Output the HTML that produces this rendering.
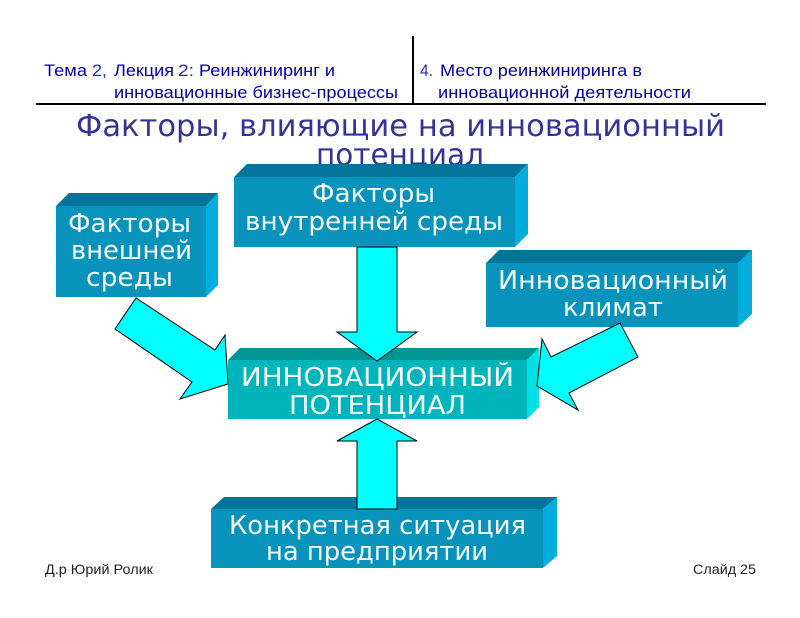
<!DOCTYPE html>
<html lang="ru">
<head>
<meta charset="utf-8">
<title>Факторы</title>
<style>
html,body{margin:0;padding:0;background:#fff;width:800px;height:618px;overflow:hidden}
svg{display:block}
.h{font-family:"Liberation Sans",Arial,sans-serif;font-size:17px;fill:#0000a8}
.d{font-family:"Liberation Sans",Arial,sans-serif;font-size:17px;fill:#2a2ab0}
.t{font-family:"DejaVu Sans",Verdana,sans-serif;font-size:30px;fill:#333399}
.b{font-family:"DejaVu Sans",Verdana,sans-serif;font-size:26px;fill:#f2fbfd}
.f{font-family:"Liberation Sans",Arial,sans-serif;font-size:13.5px;fill:#222}
.a{fill:#00ffff;stroke:#000;stroke-width:1;stroke-linejoin:miter}
</style>
</head>
<body>
<svg width="800" height="618" viewBox="0 0 800 618" xmlns="http://www.w3.org/2000/svg">
<rect width="800" height="618" fill="#fff"/>

<!-- header -->
<rect x="412" y="36" width="2" height="67" fill="#000"/>
<rect x="36" y="103" width="730" height="2" fill="#000"/>
<text class="h" x="44" y="76" textLength="43" lengthAdjust="spacingAndGlyphs">Тема</text>
<text class="d" x="92" y="76" textLength="15" lengthAdjust="spacingAndGlyphs">2,</text>
<text class="h" x="114" y="76" textLength="60" lengthAdjust="spacingAndGlyphs">Лекция</text>
<text class="d" x="178" y="76" textLength="16" lengthAdjust="spacingAndGlyphs">2:</text>
<text class="h" x="199" y="76" textLength="136" lengthAdjust="spacingAndGlyphs">Реинжиниринг и</text>
<text class="h" x="114" y="98" textLength="284" lengthAdjust="spacingAndGlyphs">инновационные бизнес-процессы</text>
<text class="d" x="420" y="76" textLength="13" lengthAdjust="spacingAndGlyphs">4.</text>
<text class="h" x="440" y="76" textLength="202" lengthAdjust="spacingAndGlyphs">Место реинжиниринга в</text>
<text class="h" x="438" y="98" textLength="253" lengthAdjust="spacingAndGlyphs">инновационной деятельности</text>

<!-- title -->
<text class="t" x="76" y="136" textLength="649" lengthAdjust="spacingAndGlyphs">Факторы, влияющие на инновационный</text>
<text class="t" x="316" y="165" textLength="168" lengthAdjust="spacingAndGlyphs">потенциал</text>

<!-- box: left -->
<polygon points="56,206 69,193 218,193 206,206" fill="#04749a"/>
<polygon points="206,206 218,193 218,285 206,297" fill="#00aedd"/>
<rect x="56" y="206" width="150" height="91" fill="#0893bd"/>

<!-- box: top -->
<polygon points="234,177 247,164 528,164 515,177" fill="#04749a"/>
<polygon points="515,177 528,164 528,234 515,247" fill="#00aedd"/>
<rect x="234" y="177" width="281" height="70" fill="#0893bd"/>

<!-- box: right -->
<polygon points="486,263 499,250 752,250 738,263" fill="#04749a"/>
<polygon points="738,263 752,250 752,314 738,327" fill="#00aedd"/>
<rect x="486" y="263" width="252" height="64" fill="#0893bd"/>

<!-- box: center -->
<polygon points="228,360 240,348 539,348 527,360" fill="#009696"/>
<polygon points="527,360 539,348 539,407 527,419" fill="#00e2e2"/>
<rect x="228" y="360" width="299" height="59" fill="#00b4bc"/>

<!-- box: bottom -->
<polygon points="211,509 224,497 557,497 543,509" fill="#04749a"/>
<polygon points="543,509 557,497 557,556 543,568" fill="#00aedd"/>
<rect x="211" y="509" width="332" height="59" fill="#0893bd"/>

<!-- arrows -->
<polygon class="a" points="357,247 397,247 397,332 417,332 377,361 337,332 357,332"/>
<polygon class="a" points="357,509 397,509 397,441 417,441 377,419 337,441 357,441"/>
<polygon class="a" points="136,298 115,329 192,382 180,399 228,384 225,335 215,350"/>
<polygon class="a" points="620,323 638,357 569,393 578,410 537,386 542,339 551,357"/>

<!-- box text -->
<text class="b" x="68" y="232" textLength="123" lengthAdjust="spacingAndGlyphs">Факторы</text>
<text class="b" x="71" y="259" textLength="121" lengthAdjust="spacingAndGlyphs">внешней</text>
<text class="b" x="86" y="286" textLength="87" lengthAdjust="spacingAndGlyphs">среды</text>

<text class="b" x="312" y="202" textLength="123" lengthAdjust="spacingAndGlyphs">Факторы</text>
<text class="b" x="245" y="230" textLength="258" lengthAdjust="spacingAndGlyphs">внутренней среды</text>

<text class="b" x="498" y="289" textLength="230" lengthAdjust="spacingAndGlyphs">Инновационный</text>
<text class="b" x="563" y="316" textLength="100" lengthAdjust="spacingAndGlyphs">климат</text>

<text class="b" x="241" y="386" textLength="273" lengthAdjust="spacingAndGlyphs">ИННОВАЦИОННЫЙ</text>
<text class="b" x="289" y="414" textLength="177" lengthAdjust="spacingAndGlyphs">ПОТЕНЦИАЛ</text>

<text class="b" x="229" y="534" textLength="297" lengthAdjust="spacingAndGlyphs">Конкретная ситуация</text>
<text class="b" x="266" y="560" textLength="222" lengthAdjust="spacingAndGlyphs">на предприятии</text>

<!-- footer -->
<text class="f" x="45" y="574" textLength="108" lengthAdjust="spacingAndGlyphs">Д.р Юрий Ролик</text>
<text class="f" x="693" y="574" textLength="63" lengthAdjust="spacingAndGlyphs">Слайд 25</text>
</svg>
</body>
</html>
